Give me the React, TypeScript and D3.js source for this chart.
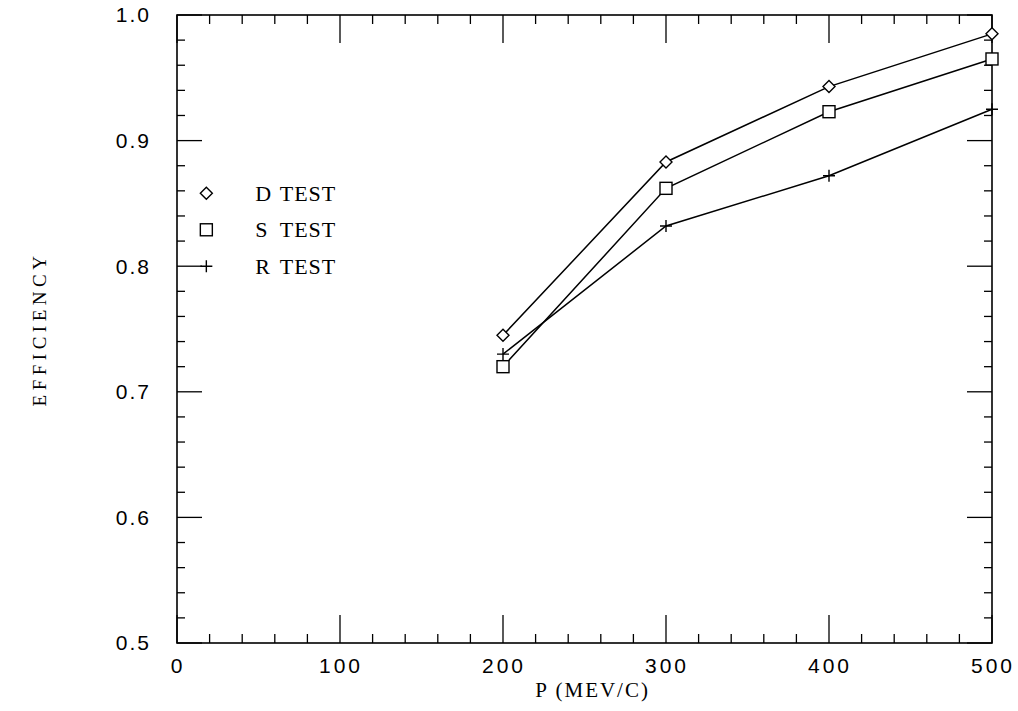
import React from "react";
import * as d3 from "d3";

const momenta = [200, 300, 400, 500];
const dTest = [0.745, 0.883, 0.943, 0.985];
const sTest = [0.72, 0.862, 0.923, 0.965];
const rTest = [0.73, 0.832, 0.872, 0.925];
const xTicks = [0, 100, 200, 300, 400, 500];
const yTicks = [0.5, 0.6, 0.7, 0.8, 0.9, 1.0];
const legendLetters = ["D", "S", "R"];

const W = 1018;
const H = 711;
const margin = { left: 177, right: 26, top: 15, bottom: 68 };

const serif = "'Liberation Serif', 'DejaVu Serif', serif";
const sans = "'Liberation Sans', Arial, sans-serif";

const Marker = ({ kind, x, y }: { kind: string; x: number; y: number }) => {
  const s = 6;
  if (kind === "diamond") {
    return (
      <path
        d={`M${x},${y - s}L${x + s},${y}L${x},${y + s}L${x - s},${y}Z`}
        fill="white"
        stroke="black"
        strokeWidth={1.4}
      />
    );
  }
  if (kind === "square") {
    return (
      <rect x={x - s} y={y - s} width={2 * s} height={2 * s} fill="white" stroke="black" strokeWidth={1.4} />
    );
  }
  return (
    <path d={`M${x - s},${y}H${x + s}M${x},${y - s}V${y + s}`} stroke="black" strokeWidth={1.4} fill="none" />
  );
};

export default function App() {
  const x = d3
    .scaleLinear()
    .domain([0, 500])
    .range([margin.left, W - margin.right]);
  const y = d3
    .scaleLinear()
    .domain([0.5, 1.0])
    .range([H - margin.bottom, margin.top]);

  const [x0, x1] = x.range();
  const [y0, y1] = y.range();

  const line = d3
    .line<[number, number]>()
    .x(d => x(d[0]))
    .y(d => y(d[1]));

  const series = [
    { letter: legendLetters[0], values: dTest, kind: "diamond" },
    { letter: legendLetters[1], values: sTest, kind: "square" },
    { letter: legendLetters[2], values: rTest, kind: "plus" }
  ];

  // minor ticks every 20 on x, every 0.02 on y
  const xMinor = d3.range(0, 501, 20);
  const yMinor = d3.range(0, 26).map(i => 0.5 + i * 0.02);

  const legendY = [0.858, 0.829, 0.8];

  return (
    <svg
      width={W}
      height={H}
      style={{ position: "absolute", left: 0, top: 0, background: "white" }}
    >
      <rect x={x0} y={y1} width={x1 - x0} height={y0 - y1} fill="none" stroke="black" strokeWidth={1.6} />

      {xMinor.map(v => {
        const major = v % 100 === 0;
        const len = major ? 28 : 9;
        return (
          <g key={"xt" + v}>
            <line x1={x(v)} x2={x(v)} y1={y0} y2={y0 - len} stroke="black" strokeWidth={1.3} />
            <line x1={x(v)} x2={x(v)} y1={y1} y2={y1 + len} stroke="black" strokeWidth={1.3} />
          </g>
        );
      })}
      {yMinor.map((v, i) => {
        const major = i % 5 === 0;
        const len = major ? 25 : 8;
        return (
          <g key={"yt" + i}>
            <line x1={x0} x2={x0 + len} y1={y(v)} y2={y(v)} stroke="black" strokeWidth={1.3} />
            <line x1={x1} x2={x1 - len} y1={y(v)} y2={y(v)} stroke="black" strokeWidth={1.3} />
          </g>
        );
      })}

      {xTicks.map(v => (
        <text
          key={"xl" + v}
          x={x(v) + 1}
          y={y0 + 30}
          textAnchor="middle"
          fontFamily={sans}
          fontSize={21}
          letterSpacing={3}
        >
          {v}
        </text>
      ))}
      {yTicks.map(v => (
        <text
          key={"yl" + v}
          x={x0 - 26}
          y={y(v)}
          dy="0.35em"
          textAnchor="end"
          fontFamily={sans}
          fontSize={21}
          letterSpacing={2}
        >
          {v.toFixed(1)}
        </text>
      ))}

      <text
        x={x(255)}
        y={H - 14}
        textAnchor="middle"
        fontFamily={serif}
        fontSize={21}
        letterSpacing={2}
      >
        P (MEV/C)
      </text>
      <text
        transform={`translate(46,${y(0.75)}) rotate(-90)`}
        textAnchor="middle"
        fontFamily={serif}
        fontSize={19}
        letterSpacing={4.5}
      >
        EFFICIENCY
      </text>

      {series.map(s => {
        const pts = momenta.map((m, i) => [m, s.values[i]] as [number, number]);
        return (
          <g key={s.letter}>
            <path d={line(pts) || ""} fill="none" stroke="black" strokeWidth={1.5} />
            {pts.map((p, i) => (
              <Marker key={i} kind={s.kind} x={x(p[0])} y={y(p[1])} />
            ))}
          </g>
        );
      })}

      {series.map((s, i) => (
        <g key={"lg" + s.letter} fontFamily={serif} fontSize={22}>
          <Marker kind={s.kind} x={x(18)} y={y(legendY[i])} />
          <text x={x(48)} y={y(legendY[i])} dy="0.35em">
            {s.letter}
          </text>
          <text x={x(63)} y={y(legendY[i])} dy="0.35em" letterSpacing={1}>
            TEST
          </text>
        </g>
      ))}
    </svg>
  );
}
